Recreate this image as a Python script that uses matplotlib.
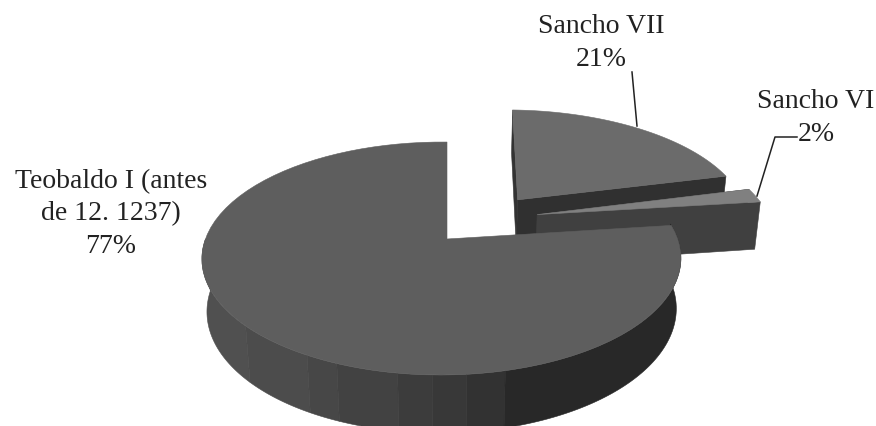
import numpy as np
import matplotlib
matplotlib.use("Agg")
import matplotlib.pyplot as plt
from matplotlib.patches import Polygon

# Shares of the pie, clockwise from twelve o'clock
labels = ["Sancho VII\n21%", "Sancho VI\n2%", "Teobaldo I (antes\nde 12. 1237)\n77%"]
shares = [21, 2, 77]

# Per-slice styling and explosion, in the order of `shares`
top_colors = ["#6b6b6b", "#808080", "#5e5e5e"]
cut_colors = ["#303030", "#404040", "#2c2c2c"]
offsets = [(0.32, 0.37), (0.40, 0.226), (0.0, 0.0)]
radii = [1.05, 1.06, 1.0]
leans = [0.025, 0.0, 0.0]

# Shading bands on the outer wall of the large slice: (upper angle, grey)
wall_bands = [(222, "#505050"), (240, "#4c4c4c"), (247, "#474747"), (260, "#424242"),
              (267, "#3c3c3c"), (274, "#383838"), (282, "#323232"), (368, "#282828")]

# Perspective camera, working in pixel space
CX, CY = 447, 240
A, G, H = 236, 113.2, 52
K, M, N = 0.1675, 0.023, 0.02


def project(x, y, z=0.0):
    w = 1 + K * y + M * x - N * z
    return CX + A * x / w, CY - (G * y + H * z) / w


def rim(offset, radius, lean, a0, a1, z=0.0, n=80):
    t = np.radians(np.linspace(a0, a1, n))
    return project(offset[0] + radius * (np.cos(t) + lean * np.sin(t)),
                   offset[1] + radius * np.sin(t), z)


def poly(ax, xs, ys, color):
    ax.add_patch(Polygon(np.column_stack([xs, ys]), closed=True, fc=color, ec=color, lw=0.4))


def wall(ax, offset, radius, lean, a0, a1, color):
    x0, y0 = rim(offset, radius, lean, a0, a1, 0)
    x1, y1 = rim(offset, radius, lean, a0, a1, -1)
    poly(ax, np.r_[x0, x1[::-1]], np.r_[y0, y1[::-1]], color)


def radial_wall(ax, offset, radius, lean, angle, color):
    ax0, ay0 = project(offset[0], offset[1], 0)
    ax1, ay1 = project(offset[0], offset[1], -1)
    rx0, ry0 = rim(offset, radius, lean, angle, angle, 0, 1)
    rx1, ry1 = rim(offset, radius, lean, angle, angle, -1, 1)
    poly(ax, [ax0, rx0[0], rx1[0], ax1], [ay0, ry0[0], ry1[0], ay1], color)


fig = plt.figure(figsize=(8.76, 4.27), dpi=100)
ax = fig.add_axes([0, 0, 1, 1])
ax.set_xlim(0, 876)
ax.set_ylim(427, 0)
ax.axis("off")

# Slice angles: clockwise from 90 degrees
ends = 90 - np.cumsum([0] + shares) * 3.6
for i, share in enumerate(shares):
    hi, lo = ends[i], ends[i + 1]
    off, r, lean = offsets[i], radii[i], leans[i]
    if i < 2:
        radial_wall(ax, off, r, lean, hi, "#333333")
        radial_wall(ax, off, r, lean, lo, cut_colors[i])
    else:
        start = 180
        for upper, grey in wall_bands:
            wall(ax, off, r, lean, start, upper, grey)
            start = upper
    xs, ys = rim(off, r, lean, lo, hi)
    ax0, ay0 = project(*off)
    poly(ax, np.r_[ax0, xs], np.r_[ay0, ys], top_colors[i])

# Data labels with their leader lines
font = dict(family="Liberation Serif", fontsize=20, color="#222222", ha="center", va="center",
            linespacing=1.4)
ax.text(601, 43, labels[0], **font)
ax.text(816, 118, labels[1], **font)
ax.text(111, 214, labels[2], **font)
ax.plot([637, 632], [127, 73], color="#222222", lw=1.1)
ax.plot([757, 775, 797], [197, 138, 138], color="#222222", lw=1.1)

fig.savefig("out.png", dpi=100)
